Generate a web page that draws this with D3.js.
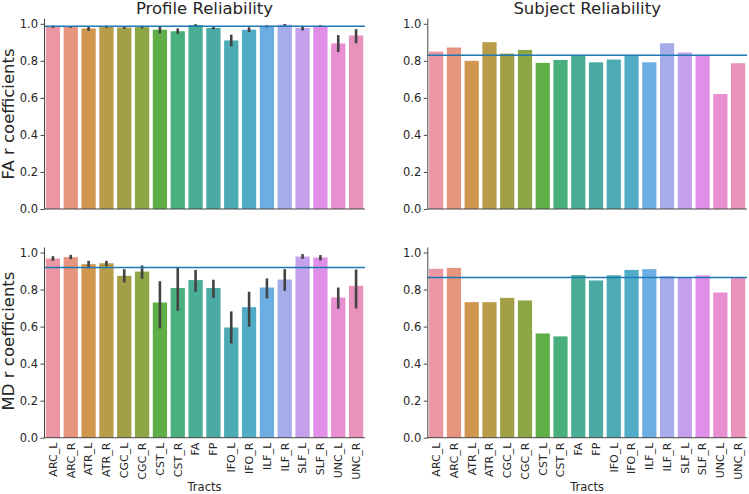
<!DOCTYPE html>
<html>
<head>
<meta charset="utf-8">
<script src="https://cdn.jsdelivr.net/npm/d3@7"></script>
<style>
  body { margin: 0; background: #fff; }
  text { font-family: "DejaVu Sans", sans-serif; fill: #262626; }
</style>
</head>
<body>
<svg id="chart" width="749" height="494"></svg>
<script>
// tract names on the x axis
var tracts = ["ARC_L", "ARC_R", "ATR_L", "ATR_R", "CGC_L", "CGC_R", "CST_L", "CST_R", "FA", "FP",
              "IFO_L", "IFO_R", "ILF_L", "ILF_R", "SLF_L", "SLF_R", "UNC_L", "UNC_R"];
var yTicks = [0, 0.2, 0.4, 0.6, 0.8, 1.0];

// profile reliability (mean + error bar ends)
var faProfile   = [0.984, 0.983, 0.975, 0.984, 0.980, 0.982, 0.968, 0.960, 0.993, 0.978, 0.910, 0.968, 0.986, 0.995, 0.978, 0.987, 0.894, 0.937];
var faProfileLo = [0.978, 0.978, 0.962, 0.978, 0.973, 0.975, 0.948, 0.946, 0.987, 0.971, 0.879, 0.955, 0.980, 0.991, 0.964, 0.982, 0.847, 0.895];
var faProfileHi = [0.990, 0.988, 0.987, 0.990, 0.987, 0.990, 0.987, 0.975, 0.998, 0.985, 0.941, 0.981, 0.992, 0.999, 0.989, 0.993, 0.939, 0.971];
var mdProfile   = [0.968, 0.975, 0.937, 0.942, 0.874, 0.897, 0.730, 0.808, 0.851, 0.808, 0.595, 0.705, 0.811, 0.854, 0.978, 0.973, 0.757, 0.820];
var mdProfileLo = [0.955, 0.964, 0.917, 0.926, 0.838, 0.858, 0.590, 0.685, 0.788, 0.755, 0.509, 0.599, 0.752, 0.793, 0.966, 0.957, 0.696, 0.698];
var mdProfileHi = [0.980, 0.987, 0.955, 0.955, 0.910, 0.930, 0.845, 0.917, 0.906, 0.853, 0.682, 0.788, 0.860, 0.910, 0.991, 0.986, 0.811, 0.908];

// subject reliability
var faSubject = [0.850, 0.872, 0.800, 0.901, 0.839, 0.859, 0.789, 0.805, 0.828, 0.792, 0.807, 0.830, 0.792, 0.895, 0.845, 0.828, 0.621, 0.787];
var mdSubject = [0.912, 0.917, 0.732, 0.732, 0.755, 0.741, 0.563, 0.547, 0.878, 0.849, 0.877, 0.906, 0.910, 0.872, 0.866, 0.876, 0.784, 0.863];

// reference lines
var faProfileRef = 0.987, mdProfileRef = 0.919, faSubjectRef = 0.830, mdSubjectRef = 0.865;

// seaborn style husl palette (l=.7) desaturated to .75
function huslToRgb(h, s, l) {
  var m = [[3.2406, -1.5372, -0.4986], [-0.9689, 1.8758, 0.0415], [0.0557, -0.2040, 1.0570]];
  var hrad = h / 360 * 2 * Math.PI, sinH = Math.sin(hrad), cosH = Math.cos(hrad);
  var sub1 = Math.pow(l + 16, 3) / 1560896;
  var sub2 = sub1 > 0.008856 ? sub1 : l / 903.3;
  var mx = Infinity;
  m.forEach(function(r) {
    var top = (0.99915 * r[0] + 1.05122 * r[1] + 1.14460 * r[2]) * sub2;
    var rb = 0.86330 * r[2] - 0.17266 * r[1];
    var lb = 0.12949 * r[2] - 0.38848 * r[0];
    var bottom = (rb * sinH + lb * cosH) * sub2;
    [0, 1].forEach(function(t) {
      var c = l * (top - 1.05122 * t) / (bottom + 0.17266 * sinH * t);
      if (c > 0 && c < mx) mx = c;
    });
  });
  var C = mx / 100 * s;
  var U = Math.cos(hrad) * C, V = Math.sin(hrad) * C;
  var t = (l + 16) / 116;
  var Y = Math.pow(t, 3) > 0.008856 ? Math.pow(t, 3) : (116 * t - 16) / 903.3;
  var varU = U / (13 * l) + 0.19784, varV = V / (13 * l) + 0.46834;
  var X = -(9 * Y * varU) / ((varU - 4) * varV - varU * varV);
  var Z = (9 * Y - 15 * varV * Y - varV * X) / (3 * varV);
  return m.map(function(r) {
    var c = r[0] * X + r[1] * Y + r[2] * Z;
    c = c <= 0.0031308 ? 12.92 * c : 1.055 * Math.pow(c, 1 / 2.4) - 0.055;
    return Math.max(0, Math.min(1, c));
  });
}

var colors = tracts.map(function(d, i) {
  var h = ((i / tracts.length + 0.01) % 1) * 359;
  var rgb = huslToRgb(h, 0.9 * 99, 0.7 * 99);
  var c = d3.hsl(d3.rgb(rgb[0] * 255, rgb[1] * 255, rgb[2] * 255));
  c.s *= 0.75;
  return c.formatHex();
});

var svg = d3.select("#chart");

function drawPanel(p) {
  var x = d3.scaleBand().domain(tracts).range([p.left, p.right]).paddingInner(0.2).paddingOuter(0.1);
  var y = d3.scaleLinear().domain([0, 1.03]).range([p.bottom, p.bottom - 1.03 * 185.2]);
  var g = svg.append("g");

  g.selectAll("rect.bar")
    .data(p.values)
    .enter().append("rect")
    .attr("class", "bar")
    .attr("x", function(d, i) { return x(tracts[i]); })
    .attr("width", x.bandwidth())
    .attr("y", function(d) { return y(d); })
    .attr("height", function(d) { return y(0) - y(d); })
    .attr("fill", function(d, i) { return colors[i]; });

  if (p.lo) {
    g.selectAll("line.err")
      .data(p.lo)
      .enter().append("line")
      .attr("class", "err")
      .attr("x1", function(d, i) { return x(tracts[i]) + x.bandwidth() / 2; })
      .attr("x2", function(d, i) { return x(tracts[i]) + x.bandwidth() / 2; })
      .attr("y1", function(d) { return y(d); })
      .attr("y2", function(d, i) { return y(p.hi[i]); })
      .attr("stroke", "#424242")
      .attr("stroke-width", 2.6);
  }

  // reference line
  g.append("line")
    .attr("x1", p.left).attr("x2", p.right)
    .attr("y1", y(p.ref)).attr("y2", y(p.ref))
    .attr("stroke", "#1f77b4")
    .attr("stroke-width", 1.5);

  var ya = g.append("g")
    .attr("transform", "translate(" + p.left + ",0)")
    .call(d3.axisLeft(y).tickValues(yTicks).tickFormat(d3.format(".1f")).tickSize(3.5).tickSizeOuter(0).tickPadding(2.5));
  ya.selectAll("text").style("font-size", "11.5px").style("font-family", "DejaVu Sans").attr("fill", "#262626");
  ya.selectAll("line, path").attr("stroke", "#444");

  g.append("line")
    .attr("x1", p.left).attr("x2", p.right)
    .attr("y1", p.bottom).attr("y2", p.bottom)
    .attr("stroke", "#444");

  if (p.title) {
    g.append("text")
      .attr("x", (p.left + p.right) / 2).attr("y", 13.5)
      .attr("text-anchor", "middle")
      .style("font-size", "16.5px")
      .text(p.title);
  }
  if (p.ylabel) {
    g.append("text")
      .attr("transform", "translate(14," + p.labelY + ") rotate(-90)")
      .attr("text-anchor", "middle")
      .style("font-size", "16.5px")
      .text(p.ylabel);
  }
  if (p.showX) {
    g.selectAll("text.xl")
      .data(tracts)
      .enter().append("text")
      .attr("class", "xl")
      .attr("transform", function(d) {
        return "translate(" + (x(d) + x.bandwidth() / 2) + "," + (p.bottom + 5) + ") rotate(-90)";
      })
      .attr("text-anchor", "end")
      .attr("dy", "0.35em")
      .style("font-size", "11px")
      .text(function(d) { return d; });
    g.append("text")
      .attr("x", (p.left + p.right) / 2).attr("y", 491)
      .attr("text-anchor", "middle")
      .style("font-size", "11.5px")
      .text("Tracts");
  }
}

drawPanel({left: 44, right: 365, bottom: 209, values: faProfile, lo: faProfileLo, hi: faProfileHi, ref: faProfileRef,
           title: "Profile Reliability", ylabel: "FA r coefficients", labelY: 114});
drawPanel({left: 427.3, right: 747, bottom: 209, values: faSubject, ref: faSubjectRef, title: "Subject Reliability"});
drawPanel({left: 44, right: 365, bottom: 437.7, values: mdProfile, lo: mdProfileLo, hi: mdProfileHi, ref: mdProfileRef,
           ylabel: "MD r coefficients", labelY: 341, showX: true});
drawPanel({left: 427.3, right: 747, bottom: 437.7, values: mdSubject, ref: mdSubjectRef, showX: true});
</script>
</body>
</html>
